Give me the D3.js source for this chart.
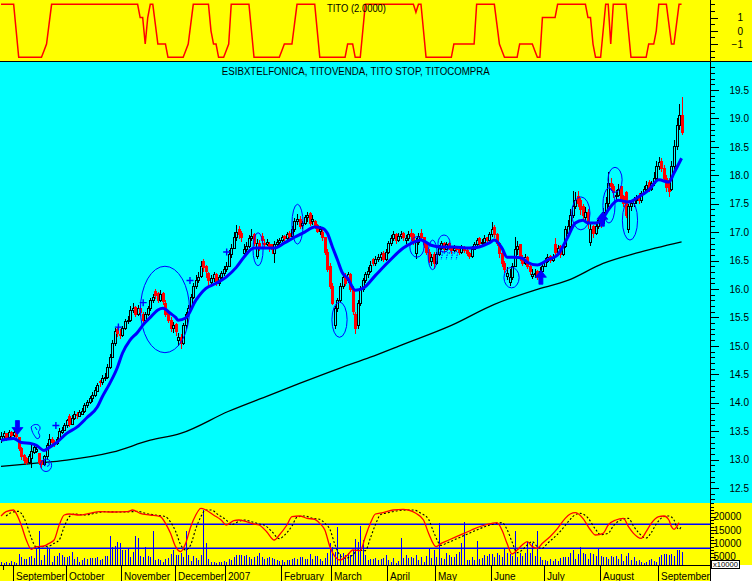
<!DOCTYPE html>
<html><head><meta charset="utf-8">
<script src="https://cdn.jsdelivr.net/npm/d3@7"></script>
<style>html,body{margin:0;padding:0;background:#fff;}svg{display:block;}</style>
</head><body>
<svg id="c" width="752" height="581"></svg>
<script>
// ---------------- DATA ----------------
const opens = [
13.35,13.40,13.45,13.38,13.47,13.42,13.50,13.38,13.20,13.08,
13.02,12.95,13.02,13.12,13.15,13.10,12.98,12.92,13.05,13.25,
13.35,13.30,13.28,13.35,13.48,13.52,13.60,13.75,13.62,13.72,
13.80,13.76,13.80,13.85,13.95,14.00,14.08,14.12,14.20,14.38,
14.35,14.42,14.45,14.62,14.80,15.05,15.28,15.20,15.18,15.30,
15.42,15.45,15.62,15.68,15.55,15.65,15.55,15.45,15.55,15.65,
15.80,15.95,15.92,15.80,15.92,15.75,15.58,15.45,15.30,15.38,
15.10,15.15,15.05,15.35,15.55,15.65,15.85,16.05,16.15,16.22,
16.48,16.40,16.28,16.12,16.18,16.25,16.10,16.20,16.28,16.35,
16.40,16.60,16.72,16.90,17.05,16.98,16.62,16.70,16.75,16.88,
16.95,16.58,16.80,16.92,16.80,16.78,16.78,16.78,16.62,16.78,
16.82,16.85,16.92,16.88,16.98,16.92,17.05,17.18,17.22,17.12,
17.15,17.25,17.32,17.18,17.18,17.12,17.02,17.00,16.90,16.65,
16.40,16.05,15.35,15.65,15.80,16.05,16.20,16.15,16.25,16.00,
15.55,15.35,15.75,16.00,16.15,16.25,16.30,16.52,16.45,16.52,
16.55,16.62,16.52,16.65,16.80,16.88,16.95,16.85,16.92,16.98,
16.85,16.88,16.98,16.95,16.62,16.82,16.98,16.90,16.78,16.65,
16.48,16.60,16.45,16.60,16.72,16.80,16.70,16.80,16.72,16.68,
16.72,16.70,16.65,16.72,16.68,16.62,16.58,16.70,16.78,16.88,
16.80,16.82,16.90,16.85,16.95,17.08,16.95,16.80,16.62,16.45,
16.22,16.12,16.20,16.40,16.70,16.78,16.55,16.45,16.55,16.40,
16.22,16.25,16.30,16.20,16.30,16.40,16.48,16.58,16.50,16.78,
16.65,16.75,16.60,16.75,16.98,17.10,17.30,17.45,17.62,17.55,
17.45,17.25,17.35,16.82,17.10,16.98,17.10,17.20,17.15,17.35,
17.50,17.85,17.80,17.62,17.65,17.80,17.62,17.70,17.05,17.45,
17.50,17.55,17.60,17.55,17.68,17.75,17.88,17.75,17.85,17.95,
18.15,18.25,18.12,17.95,17.90,17.75,18.15,18.50,18.88,19.05];
const highs = [
13.48,13.50,13.47,13.52,13.50,13.53,13.52,13.40,13.22,13.10,
13.05,13.10,13.28,13.30,13.25,13.12,13.00,13.08,13.30,13.45,
13.40,13.35,13.40,13.55,13.58,13.65,13.72,13.80,13.78,13.85,
13.84,13.88,13.90,14.00,14.05,14.12,14.18,14.28,14.35,14.40,
14.48,14.52,14.68,14.85,15.10,15.32,15.33,15.30,15.35,15.48,
15.52,15.70,15.75,15.70,15.72,15.68,15.60,15.60,15.70,15.85,
15.92,16.00,15.95,15.98,15.95,15.80,15.62,15.50,15.42,15.40,
15.22,15.20,15.40,15.60,15.72,15.92,16.10,16.25,16.30,16.50,
16.52,16.42,16.30,16.25,16.30,16.28,16.25,16.32,16.40,16.48,
16.68,16.80,17.00,17.12,17.10,17.02,16.80,16.82,16.95,17.05,
16.98,16.88,16.86,16.98,16.88,16.88,16.82,16.80,16.85,16.88,
16.90,16.95,16.95,17.00,17.02,17.10,17.25,17.32,17.28,17.20,
17.30,17.35,17.36,17.30,17.22,17.15,17.10,17.05,16.92,16.70,
16.45,16.10,15.70,15.85,16.10,16.25,16.28,16.30,16.28,16.05,
15.60,15.80,16.05,16.20,16.30,16.38,16.50,16.55,16.58,16.62,
16.65,16.66,16.70,16.85,16.95,17.02,16.98,16.98,17.02,17.00,
16.95,17.02,17.05,16.98,16.90,16.98,17.05,16.92,16.82,16.70,
16.62,16.65,16.65,16.78,16.85,16.82,16.82,16.82,16.75,16.78,
16.76,16.72,16.78,16.75,16.70,16.65,16.75,16.82,16.90,16.92,
16.88,16.95,16.92,17.00,17.18,17.12,16.98,16.82,16.65,16.50,
16.38,16.35,16.45,16.92,16.85,16.80,16.60,16.62,16.58,16.45,
16.35,16.35,16.33,16.38,16.48,16.55,16.62,16.60,16.62,16.90,
16.78,16.78,16.80,17.10,17.22,17.40,17.72,17.70,17.72,17.60,
17.50,17.45,17.40,17.15,17.12,17.15,17.25,17.28,17.42,17.62,
18.05,17.95,17.85,17.75,17.85,17.82,17.65,17.72,17.50,17.55,
17.62,17.65,17.68,17.72,17.82,17.90,17.92,17.90,18.05,18.25,
18.32,18.30,18.18,18.00,17.95,18.25,18.62,19.00,19.25,19.37];
const lows = [
13.30,13.36,13.33,13.35,13.38,13.40,13.36,13.15,13.00,12.92,
12.90,12.93,12.85,13.10,13.12,12.90,12.85,12.88,13.00,13.22,
13.25,13.22,13.25,13.32,13.45,13.50,13.55,13.58,13.60,13.70,
13.72,13.74,13.78,13.82,13.90,13.98,14.02,14.10,14.18,14.28,
14.32,14.38,14.42,14.60,14.78,15.00,15.15,15.12,15.15,15.28,
15.38,15.42,15.58,15.50,15.52,15.52,15.35,15.42,15.52,15.62,
15.75,15.82,15.75,15.78,15.72,15.50,15.40,15.25,15.22,15.18,
15.00,14.95,15.02,15.30,15.50,15.62,15.82,16.00,16.10,16.20,
16.30,16.20,16.05,16.08,16.12,16.05,16.05,16.15,16.22,16.30,
16.38,16.55,16.70,16.85,16.88,16.82,16.58,16.65,16.72,16.85,
16.75,16.52,16.66,16.80,16.70,16.75,16.65,16.62,16.45,16.75,
16.78,16.82,16.82,16.85,16.88,16.90,17.00,17.12,17.05,17.05,
17.12,17.18,17.10,17.12,17.05,16.98,16.95,16.85,16.60,16.30,
16.00,15.72,15.30,15.60,15.75,16.00,16.05,16.10,15.95,15.55,
15.20,15.30,15.70,15.95,16.10,16.20,16.28,16.40,16.40,16.48,
16.50,16.48,16.50,16.62,16.75,16.85,16.80,16.82,16.88,16.85,
16.80,16.85,16.85,16.78,16.52,16.78,16.85,16.72,16.60,16.45,
16.40,16.35,16.42,16.58,16.68,16.65,16.68,16.68,16.62,16.65,
16.65,16.60,16.62,16.64,16.58,16.52,16.55,16.68,16.75,16.75,
16.76,16.80,16.80,16.82,16.92,16.90,16.75,16.55,16.38,16.28,
16.15,16.05,16.15,16.38,16.60,16.50,16.40,16.42,16.35,16.25,
16.18,16.20,16.15,16.12,16.28,16.38,16.45,16.45,16.48,16.60,
16.62,16.55,16.58,16.72,16.95,17.05,17.25,17.40,17.45,17.30,
17.20,17.20,17.05,16.75,16.90,16.95,17.05,17.08,17.12,17.32,
17.45,17.72,17.60,17.55,17.62,17.55,17.45,17.25,16.98,17.38,
17.45,17.50,17.50,17.52,17.65,17.70,17.70,17.72,17.82,17.92,
18.10,18.05,17.90,17.70,17.62,17.72,18.10,18.45,18.80,18.70];
const closes = [
13.40,13.45,13.38,13.47,13.42,13.48,13.40,13.20,13.05,12.98,
12.95,13.05,13.15,13.22,13.18,12.95,12.92,13.05,13.25,13.35,
13.30,13.28,13.35,13.50,13.52,13.60,13.68,13.62,13.72,13.80,
13.78,13.82,13.85,13.95,14.00,14.08,14.12,14.22,14.30,14.35,
14.42,14.45,14.62,14.80,15.05,15.25,15.22,15.18,15.30,15.42,
15.45,15.62,15.65,15.55,15.65,15.58,15.45,15.55,15.65,15.80,
15.85,15.88,15.80,15.90,15.78,15.55,15.45,15.30,15.35,15.25,
15.15,15.05,15.35,15.55,15.65,15.85,16.05,16.15,16.20,16.40,
16.38,16.30,16.15,16.18,16.25,16.12,16.20,16.28,16.35,16.40,
16.60,16.72,16.90,17.00,16.95,16.90,16.70,16.75,16.88,16.92,
16.80,16.80,16.72,16.85,16.78,16.82,16.75,16.70,16.78,16.82,
16.85,16.90,16.88,16.95,16.92,17.05,17.18,17.22,17.10,17.15,
17.25,17.30,17.15,17.22,17.10,17.02,17.05,16.90,16.65,16.35,
16.05,15.75,15.65,15.80,16.05,16.20,16.10,16.25,16.00,15.60,
15.30,15.75,16.00,16.15,16.25,16.30,16.42,16.45,16.52,16.55,
16.60,16.52,16.65,16.80,16.88,16.95,16.85,16.92,16.95,16.90,
16.88,16.95,16.92,16.82,16.82,16.92,16.90,16.78,16.65,16.50,
16.55,16.45,16.60,16.72,16.80,16.70,16.78,16.72,16.68,16.72,
16.70,16.65,16.72,16.68,16.62,16.58,16.70,16.78,16.85,16.80,
16.82,16.88,16.85,16.95,17.05,16.95,16.80,16.62,16.45,16.35,
16.28,16.20,16.40,16.70,16.75,16.55,16.45,16.55,16.40,16.30,
16.25,16.28,16.20,16.30,16.40,16.48,16.55,16.50,16.55,16.65,
16.72,16.60,16.75,17.05,17.10,17.30,17.45,17.55,17.50,17.40,
17.30,17.35,17.15,17.05,16.98,17.10,17.20,17.15,17.35,17.50,
17.85,17.80,17.70,17.65,17.75,17.60,17.50,17.30,17.45,17.50,
17.55,17.60,17.55,17.68,17.75,17.82,17.75,17.85,17.95,18.15,
18.22,18.12,17.95,17.78,17.72,18.15,18.50,18.88,19.05,18.75];
const volumes = [
3125,2750,3125,2750,3375,3125,2500,6000,4750,4125,
4125,4750,5250,4375,7750,14625,3750,5625,8750,8125,
3125,5375,5375,6250,5625,4750,4750,5250,6625,4125,
4750,3125,3750,4375,4125,4375,4375,4375,4750,3750,
4000,5250,5250,12750,8750,9125,10625,10000,7500,7500,
8125,4750,6625,12750,11875,5250,5000,8750,5375,4750,
14625,3750,4000,3750,3125,4000,4375,6000,7500,5625,
5625,6500,5000,14625,5625,3500,5250,4375,3750,5625,
22500,10000,4000,3125,3125,2750,3125,3125,3375,3125,
4000,3750,4750,5625,5625,5625,5250,5625,4750,4000,
5000,5250,6250,4750,4000,4375,4750,4375,4000,3750,
3500,3750,3125,3750,3750,4000,4375,4000,4750,4750,
4000,4000,6000,4000,5250,5250,4000,3500,4375,6500,
10000,8750,6875,16250,6000,6250,5625,6250,5625,7500,
11500,10625,16500,11250,5625,3750,4000,4000,4375,3750,
4000,4375,5625,3750,3125,4375,2750,3500,11875,4375,
5625,4375,4750,4375,5625,3750,4750,3125,5250,8125,
4375,7500,5000,17750,4375,4000,6250,5625,4750,5000,
6000,6875,10250,18125,3750,3750,4750,3750,11000,4000,
4375,5625,5250,6000,6000,5000,6250,5625,5000,7750,
6250,6000,5250,14750,5000,6250,5250,6250,10625,6250,
10000,5250,14750,4750,3750,3750,3500,4000,3500,4000,
3500,4375,4750,4750,4750,6500,7500,4000,6000,8500,
6250,6000,4000,6250,6000,5250,7750,5250,5000,4750,
4000,5250,4750,5250,4000,6000,3500,5250,6500,3750,
4750,3500,3750,3125,2750,3125,3750,4000,3500,3125,
4750,5625,6000,6000,5625,6000,5250,7500,7500,6875];
const titoVals = [
2,2,2,2,2,2,0,-2,-2,-2,
-2,-2,-2,-2,-2,-2,-2,-1.5,-1,0.5,
2,2,2,2,2,2,2,2,2,2,
2,2,2,2,2,2,2,2,2,2,
2,2,2,2,2,2,2,2,2,2,
2,2,2,2,2,1,1,-1,1,2,
2,0.5,-1,-1,-1,-1,-2,-2,-2,-2,
-2,-2,-2,-1.5,-1,0.5,2,2,2,2,
2,2,2,0,-1,-1,-2,-2,-2,-1.5,
-1,2,2,2,2,2,2,2,2,0,
-2,-2,-2,-2,-2,-2,-2,-2,-2,-2,
-2,-1.5,-1,-1,-1,-1,0.5,2,2,2,
2,2,2,2,2,0,-2,-2,-2,-2,
-2,-2,-2,-2,-2,-2,-2,-1,-1,-1,
-2,-2,-2,0,2,2,2,2,2,2,
2,2,2,2,2,2,2,2,2,2,
2,2,2,2,1.4,2,2,0,-2,-2,
-2,-2,-2,-2,-2,-2,-2,-2,-2,-1,
-1,-1,-1,-1,-1,-1,-1,-1,2,2,
2,2,2,2,2,2,0.5,-1,-1.5,-2,
-2,-2,-2,-2,-2,-1,-1,-1,-1,-1,
-1,-1.5,-2,-2,1,1,1,1,1,1,
2,2,2,2,2,2,2,2,2,2,
2,2,1,1,-1,-2,-2,-2,0,2,
2,-1,2,2,2,2,2,2,0,-2,
-2,-2,-2,-2,-2,-2,-1,-1,-1,0,
2,2,2,2,0.5,-1,-1,0.5,2,2];
// short moving average (blue), read at sampled days
const maDays = [0,5,8,12,14,17,19,22,26,30,34,38,40,43,46,48,51,54,56,59,62,64,67,69,70,73,77,81,85,89,93,96,100,104,108,112,116,120,124,127,129,131,133,135,137,140,143,148,153,159,163,166,170,174,179,185,189,193,195,198,200,203,206,208,212,216,220,224,227,230,232,235,238,240,244,248,252,256,260,264,266,269];
const maVals = [13.34,13.37,13.30,13.28,13.25,13.16,13.21,13.30,13.46,13.57,13.74,13.92,14.10,14.34,14.62,14.87,15.10,15.24,15.36,15.50,15.63,15.66,15.57,15.50,15.45,15.49,15.80,16.01,16.10,16.21,16.38,16.56,16.72,16.72,16.72,16.81,16.91,17.00,17.09,17.07,16.98,16.74,16.51,16.28,16.19,15.98,16.01,16.24,16.47,16.72,16.82,16.86,16.77,16.74,16.74,16.72,16.74,16.81,16.86,16.72,16.56,16.56,16.54,16.47,16.42,16.51,16.60,16.91,17.16,17.21,17.16,17.16,17.25,17.39,17.56,17.53,17.62,17.74,17.92,17.88,18.04,18.30];
// long moving average (black)
const longDays = [0,12,26,44,59,71,90,106,118,134,146,158,178,195,211,224,238,251,269];
const longVals = [12.88,12.93,12.99,13.13,13.34,13.46,13.85,14.13,14.34,14.61,14.80,15.01,15.36,15.73,15.98,16.15,16.45,16.63,16.83];
// lower oscillator (red) and its signal (black dashed)
const oscDays = [0,2,5,6,8,10,12,14,17,19,21,23,25,27,31,35,39,44,50,52,55,59,63,65,67,69,71,73,75,77,79,81,84,87,89,92,94,97,100,102,105,108,110,113,115,118,121,124,126,128,130,132,134,137,139,142,144,146,148,151,155,159,161,164,167,169,172,174,177,180,183,186,190,194,196,198,200,202,204,206,208,210,212,214,217,220,223,225,227,230,233,235,238,240,243,246,248,250,253,255,257,260,262,264,265,266,268];
const oscVals = [20250,21875,22500,21250,16875,11250,7750,8750,9000,10000,11250,16875,20625,21000,20625,21250,21875,21750,21875,22500,21250,20625,20000,17500,13750,8750,6875,10000,16250,20625,23125,22500,20625,18750,16875,18500,18750,18125,17250,16875,14375,11250,13125,16875,20000,20250,19375,19000,17500,15000,8750,5000,3750,5625,7500,7250,12500,17500,21000,21500,22500,22750,22500,21250,18750,13750,8750,10000,11250,12500,13750,15000,16500,17500,17750,15000,10000,6000,7500,9375,10625,8750,8125,10000,12500,15625,19375,21000,21500,19375,15000,13125,13750,16875,18750,19375,16250,13750,11875,14375,17500,20000,20250,18750,16250,15250,17750];
const sigDays = [2,4,7,8,10,12,14,16,19,21,23,25,27,29,33,37,41,46,52,54,57,61,65,67,69,71,73,75,77,79,81,83,86,89,91,94,96,99,102,104,107,110,112,115,117,120,123,126,128,130,132,134,136,139,141,144,146,148,150,153,157,161,163,166,169,171,174,176,179,182,185,188,192,196,198,200,202,204,206,208,210,212,214,216,219,222,225,227,229,232,235,237,240,242,245,248,250,252,255,257,259,262,264,266,267,268,269];
const sigVals = [20250,21500,22000,21250,17500,12000,8500,8750,9000,10000,11250,16250,20000,21000,20625,21250,21875,21750,21875,22000,21250,20625,20000,18000,14500,9500,7500,9500,15500,20000,22500,22500,20625,18750,17000,18250,18750,18125,17250,16875,14500,11750,13000,16500,19750,20250,19375,19000,17500,15250,9500,5500,4375,5625,7500,7250,12000,17000,20750,21500,22250,22500,22500,21250,19000,14250,9250,10000,11250,12500,13750,15000,16500,17500,17750,15250,10500,6500,7500,9375,10625,8750,8125,10000,12500,15500,19000,20750,21250,19500,15250,13250,13750,16500,18750,19375,16500,14000,12000,14000,17250,20000,20250,18750,16250,15250,16500];
const bandLevels = [17125, 8125];
// axes / labels
const priceTicks = [12.5,13,13.5,14,14.5,15,15.5,16,16.5,17,17.5,18,18.5,19,19.5];
const titoTicks = [1,0,-1];
const lowerTicks = [20000,15000,10000,5000];
const monthNames = ["September","October","November","December","2007","February","March","April","May","June","July","August","September"];
const monthStarts = [5,26,48,69,89,111,131,153,172,194,215,237,260];
// hand-drawn annotations (in data units)
const ellDays   = [64.8,101.6,117.2,133.8,164.4,170.6,175.1,201.8,229.2,240.3,242.7,248.6,17.8];
const ellPrices = [15.64,16.70,17.14,15.46,16.74,16.60,16.80,16.20,17.33,17.47,17.92,17.21,12.90];
const ellRDays  = [9.7,2.0,2.2,3.0,2.8,1.8,2.4,3.0,3.6,2.4,2.8,3.0,2.2];
const ellRPrices= [0.76,0.29,0.35,0.31,0.18,0.26,0.15,0.18,0.29,0.31,0.22,0.35,0.11];
const plusDays  = [21.7,46.4,56.2,74.7,89.2];
const plusPrices= [13.60,15.33,15.76,16.15,16.65];
const arrowDays = [6.5,213.4,237.7];
const arrowPrices=[13.44,16.33,17.35];
const arrowDirs = ["down","up","up"];

// ---------------- DRAWING ----------------
const W = 752, H = 581, AXX = 710;
const YEL = "#ffff00", CY = "#00ffff", BLUE = "#0000ff", RED = "#ff0000";
const FONT = "'Liberation Sans', Arial, sans-serif";
const svg = d3.select("#c");
const nDays = closes.length;
const x = d3.scaleLinear().domain([0, 269]).range([1, 681.57]);
const yP = d3.scaleLinear().domain([12.5, 19.5]).range([488, 90]);
const yT = d3.scaleLinear().domain([-2, 2]).range([57.3, 4.3]);
const yB = d3.scaleLinear().domain([0, 25000]).range([570, 503.33]);

// backgrounds
svg.append("rect").attr("x",0).attr("y",0).attr("width",W).attr("height",61).attr("fill",YEL);
svg.append("rect").attr("x",0).attr("y",62).attr("width",W).attr("height",441).attr("fill",CY);
svg.append("rect").attr("x",0).attr("y",503).attr("width",W).attr("height",62).attr("fill",YEL);
svg.append("rect").attr("x",0).attr("y",565).attr("width",AXX).attr("height",16).attr("fill",YEL);
svg.append("rect").attr("x",AXX).attr("y",565).attr("width",W-AXX).attr("height",16).attr("fill","#fff");

const defs = svg.append("defs");
function clip(id, y, h){ defs.append("clipPath").attr("id",id).append("rect").attr("x",0).attr("y",y).attr("width",AXX).attr("height",h); }
clip("cT",0,61); clip("cM",62,441); clip("cB",503,62); clip("cX",565,16);

// ---- top TITO panel ----
const gTop = svg.append("g").attr("clip-path","url(#cT)");
gTop.append("path").datum(titoVals)
  .attr("d", d3.line().x((d,i)=>x(i)).y(d=>yT(d)))
  .attr("fill","none").attr("stroke",RED).attr("stroke-width",1.5);
svg.append("text").attr("x",356.5).attr("y",12).attr("text-anchor","middle")
  .attr("font-family",FONT).attr("font-size",10).attr("textLength",59).attr("lengthAdjust","spacingAndGlyphs")
  .text("TITO (2.0000)");

// ---- main panel ----
const gMain = svg.append("g").attr("clip-path","url(#cM)");
gMain.append("path").datum(d3.zip(longDays,longVals))
  .attr("d", d3.line().x(d=>x(d[0])).y(d=>yP(d[1])).curve(d3.curveMonotoneX))
  .attr("fill","none").attr("stroke","#000").attr("stroke-width",1.3);

const candles = gMain.append("g").attr("shape-rendering","crispEdges")
  .selectAll("g").data(d3.range(nDays)).join("g");
const isDown = i => closes[i] < opens[i];
candles.append("line")
  .attr("x1",i=>Math.round(x(i))+0.5).attr("x2",i=>Math.round(x(i))+0.5)
  .attr("y1",i=>yP(highs[i])).attr("y2",i=>yP(lows[i]))
  .attr("stroke",i=>isDown(i)?RED:"#000");
candles.append("rect")
  .attr("x",i=>Math.round(x(i))-0.5).attr("width",2)
  .attr("y",i=>yP(Math.max(opens[i],closes[i])))
  .attr("height",i=>Math.max(1,Math.abs(yP(opens[i])-yP(closes[i]))))
  .attr("fill",i=>isDown(i)?RED:CY)
  .attr("stroke",i=>isDown(i)?RED:"#000");

gMain.append("path").datum(d3.zip(maDays,maVals))
  .attr("d", d3.line().x(d=>x(d[0])).y(d=>yP(d[1])).curve(d3.curveMonotoneX))
  .attr("fill","none").attr("stroke",BLUE).attr("stroke-width",3);

// annotations
const ann = gMain.append("g").attr("fill","none").attr("stroke",BLUE);
ann.selectAll("ellipse").data(d3.range(ellDays.length)).join("ellipse")
  .attr("cx",i=>x(ellDays[i])).attr("cy",i=>yP(ellPrices[i]))
  .attr("rx",i=>x(ellDays[i]+ellRDays[i])-x(ellDays[i]))
  .attr("ry",i=>yP(ellPrices[i]-ellRPrices[i])-yP(ellPrices[i]))
  .attr("stroke-width",1);
plusDays.forEach((d,i)=>{
  const px = x(d), py = yP(plusPrices[i]);
  ann.append("path").attr("d",`M${px-3.5},${py}H${px+3.5}M${px},${py-3.5}V${py+3.5}`).attr("stroke-width",1.4);
});
arrowDays.forEach((d,i)=>{
  const px = x(d), py = yP(arrowPrices[i]);
  const s = arrowDirs[i]==="down" ? -1 : 1;
  const p = `M${px},${py} L${px-5.5},${py+s*7} L${px-2},${py+s*7} L${px-2},${py+s*14} L${px+2},${py+s*14} L${px+2},${py+s*7} L${px+5.5},${py+s*7} Z`;
  ann.append("path").attr("d",p).attr("fill",BLUE).attr("stroke",BLUE).attr("stroke-width",0.8);
});
// hand squiggles
{
  const ax = x(11.5), ay = yP(13.52);
  ann.append("path").attr("stroke-width",1)
    .attr("d",`M${ax+1},${ay-3} C${ax+4},${ay-7} ${ax+10},${ay-6} ${ax+10},${ay-2} C${ax+10},${ay+1} ${ax+7},${ay+1} ${ax+9},${ay+4} C${ax+11},${ay+7} ${ax+8},${ay+10} ${ax+6},${ay+8} C${ax+4},${ay+5} ${ax+2},${ay+3} ${ax+1},${ay-3} Z M${ax+5},${ay-3} L${ax+7},${ay}`);
  const bx = x(17.8), by = yP(12.90);
  ann.append("path").attr("stroke-width",1).attr("d",`M${bx-2},${by-6} L${bx-1},${by+1} M${bx+1},${by-3} C${bx+4},${by-3} ${bx+4},${by+1} ${bx+1},${by+1}`);
  const qx = x(173.2), qy = yP(16.62);
  for(let k=0;k<4;k++){
    const sx = qx + k*5;
    ann.append("path").attr("stroke-width",1).attr("stroke-dasharray","1.5,1")
      .attr("d",`M${sx},${qy} C${sx+1},${qy-4} ${sx+5},${qy-3} ${sx+3},${qy+1} L${sx+2},${qy+6}`);
  }
}
svg.append("text").attr("x",355.8).attr("y",74.7).attr("text-anchor","middle")
  .attr("font-family",FONT).attr("font-size",10).attr("textLength",268).attr("lengthAdjust","spacingAndGlyphs")
  .text("ESIBXTELFONICA, TITOVENDA, TITO STOP, TITOCOMPRA");

// ---- lower panel ----
const gLow = svg.append("g").attr("clip-path","url(#cB)");
gLow.selectAll("line.band").data(bandLevels).join("line").attr("class","band")
  .attr("x1",0).attr("x2",AXX).attr("y1",d=>yB(d)).attr("y2",d=>yB(d))
  .attr("stroke",BLUE).attr("stroke-width",1.5);
gLow.append("g").attr("shape-rendering","crispEdges").selectAll("line").data(d3.range(nDays)).join("line")
  .attr("x1",i=>Math.round(x(i))+0.5).attr("x2",i=>Math.round(x(i))+0.5)
  .attr("y1",yB(0)).attr("y2",i=>yB(volumes[i]))
  .attr("stroke",BLUE).attr("stroke-width",1);
gLow.append("path").datum(d3.zip(sigDays,sigVals))
  .attr("d", d3.line().x(d=>x(d[0])).y(d=>yB(d[1])).curve(d3.curveMonotoneX))
  .attr("fill","none").attr("stroke","#000").attr("stroke-width",1.1).attr("stroke-dasharray","2,2");
gLow.append("path").datum(d3.zip(oscDays,oscVals))
  .attr("d", d3.line().x(d=>x(d[0])).y(d=>yB(d[1])).curve(d3.curveMonotoneX))
  .attr("fill","none").attr("stroke",RED).attr("stroke-width",1.3);

// ---- axes ----
svg.append("line").attr("x1",0).attr("x2",W).attr("y1",61.5).attr("y2",61.5).attr("stroke","#000");
svg.append("line").attr("x1",AXX+0.5).attr("x2",AXX+0.5).attr("y1",0).attr("y2",H).attr("stroke","#000");
function styleAxis(g){ g.select(".domain").remove(); g.attr("font-family",FONT).attr("font-size",10); g.selectAll("text").attr("fill","#000"); g.selectAll("line").attr("stroke","#000"); g.attr("shape-rendering","crispEdges"); }
// price axis
svg.append("g").attr("transform",`translate(${AXX+0.5},0)`)
  .call(d3.axisRight(yP).tickValues(d3.range(123,200).map(v=>v/10)).tickSize(4).tickFormat(""))
  .call(styleAxis);
svg.append("g").attr("transform",`translate(${AXX+0.5},0)`)
  .call(d3.axisRight(yP).tickValues(priceTicks).tickSize(8).tickPadding(11).tickFormat(d3.format(".1f")))
  .call(styleAxis);
// TITO axis
svg.append("g").attr("transform",`translate(${AXX+0.5},0)`)
  .call(d3.axisRight(yT).tickValues(d3.range(-2,2.01,0.5)).tickSize(4).tickFormat(""))
  .call(styleAxis);
const gT = svg.append("g").attr("transform",`translate(${AXX+0.5},0)`)
  .call(d3.axisRight(yT).tickValues(titoTicks).tickSize(7).tickFormat(d3.format("d")))
  .call(styleAxis);
gT.selectAll("text").attr("x",32.5).attr("text-anchor","end");
// lower axis
svg.append("g").attr("transform",`translate(${AXX+0.5},0)`)
  .call(d3.axisRight(yB).tickValues(d3.range(2500,25001,1250)).tickSize(3).tickFormat(""))
  .call(styleAxis);
svg.append("g").attr("transform",`translate(${AXX+0.5},0)`)
  .call(d3.axisRight(yB).tickValues(lowerTicks).tickSize(5).tickPadding(-2).tickFormat(d3.format("d")))
  .call(styleAxis);
svg.append("rect").attr("x",711.5).attr("y",560.5).attr("width",28).attr("height",8)
  .attr("fill","#fff").attr("stroke","#000");
svg.append("text").attr("x",713).attr("y",567.2).attr("font-family",FONT).attr("font-size",7)
  .attr("textLength",25).attr("lengthAdjust","spacingAndGlyphs").text("x10000");

// month axis
svg.append("line").attr("x1",0).attr("x2",AXX).attr("y1",565.5).attr("y2",565.5).attr("stroke","#000");
const mg = svg.append("g").attr("shape-rendering","crispEdges");
mg.selectAll("line").data(monthStarts).join("line")
  .attr("x1",d=>Math.round(x(d))-0.5).attr("x2",d=>Math.round(x(d))-0.5)
  .attr("y1",565).attr("y2",581).attr("stroke","#000");
mg.append("line").attr("x1",Math.round(x(1))-0.5).attr("x2",Math.round(x(1))-0.5).attr("y1",565).attr("y2",570).attr("stroke","#000");
const mlab = svg.append("g").attr("clip-path","url(#cX)");
mlab.selectAll("text").data(monthStarts).join("text")
  .attr("x",d=>Math.round(x(d))+2).attr("y",579.5)
  .attr("font-family",FONT).attr("font-size",10).attr("fill","#000")
  .text((d,i)=>monthNames[i]);
</script>
</body></html>
